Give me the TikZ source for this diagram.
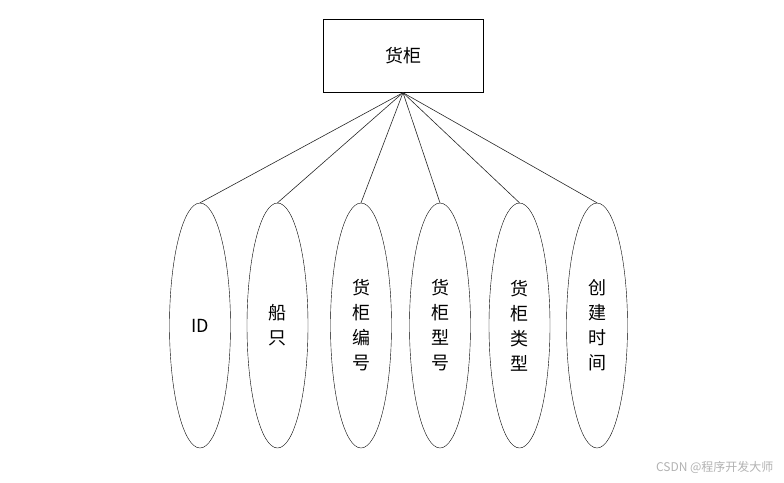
\documentclass[tikz,border=0pt]{standalone}
\usepackage{fontspec}
\setmainfont{Noto Sans CJK SC}
\usetikzlibrary{shapes.geometric}
\tikzset{line width=.7pt,
  every node/.style={font=\fontsize{18}{25}\selectfont},
  entity/.style={draw,minimum width=160pt,minimum height=73pt,inner sep=0pt},
  attr/.style={draw,ellipse,minimum width=61pt,minimum height=245pt,inner sep=0pt,align=center},
  link/.style={draw=black!85,line width=.6pt},
  wmark/.style={text=black!30,font=\fontsize{12}{14}\selectfont}}
\begin{document}
\begin{tikzpicture}[x=1pt,y=-1pt]
\useasboundingbox(0,0)rectangle(784,482);
\node[entity](huogui)at(403,56){货柜};
\foreach \n/\x/\t in {id/200/ID,ship/277.5/船\\只,num/361/货\\柜\\编\\号,model/440/货\\柜\\型\\号,kind/519.5/货\\柜\\类\\型,time/597/创\\建\\时\\间}{
  \node[attr](\n)at(\x,325.5){\t};
  \draw[link](huogui.south)--(\n.north);}
\node[wmark,anchor=east](wm)at(777,467){CSDN @程序开发大师};
\end{tikzpicture}
\end{document}
